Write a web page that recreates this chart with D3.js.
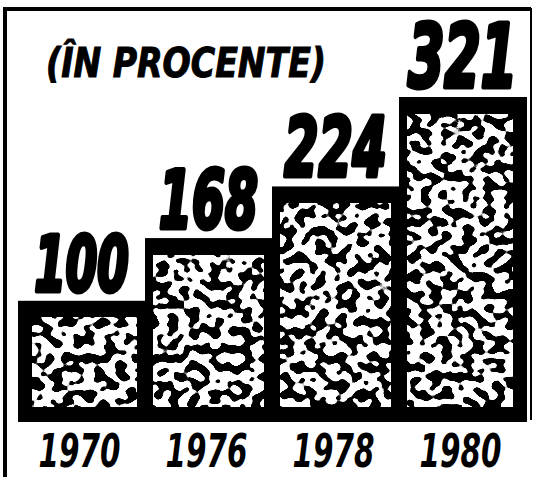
<!DOCTYPE html>
<html>
<head>
<meta charset="utf-8">
<script src="https://cdn.jsdelivr.net/npm/d3@7"></script>
<style>
  body { margin: 0; background: #fff; }
  svg { display: block; }
</style>
</head>
<body>
<div id="chart"></div>
<script>
// date: indici in procente (1970 = 100)
var years = ["1970", "1976", "1978", "1980"];
var values = [100, 168, 224, 321];
var unitLabel = "(ÎN PROCENTE)";

var w = 535, h = 477;
var baseY = 422;      // marginea de jos a coloanelor
var border = 15;      // grosimea chenarului negru

var svg = d3.select("#chart")
  .append("svg")
  .attr("width", w)
  .attr("height", h);

// textura "pietris" : zgomot trecut prin prag
var defs = svg.append("defs");
var f = defs.append("filter")
  .attr("id", "grain")
  .attr("filterUnits", "objectBoundingBox")
  .attr("x", 0).attr("y", 0).attr("width", 1).attr("height", 1)
  .attr("color-interpolation-filters", "sRGB");
f.append("feTurbulence")
  .attr("type", "fractalNoise")
  .attr("baseFrequency", "0.095 0.11")
  .attr("numOctaves", 1)
  .attr("seed", 7)
  .attr("result", "noise");
f.append("feColorMatrix")
  .attr("in", "noise")
  .attr("type", "matrix")
  .attr("values", "1 0 0 0 0  1 0 0 0 0  1 0 0 0 0  0 0 0 0 1")
  .attr("result", "grey");
var ct = f.append("feComponentTransfer").attr("in", "grey");
["feFuncR", "feFuncG", "feFuncB"].forEach(function(n) {
  ct.append(n).attr("type", "linear").attr("slope", 40).attr("intercept", -19.2);
});

var x = d3.scaleBand()
  .domain(years)
  .range([18, 526])
  .padding(0);

var y = d3.scaleLinear()
  .domain([0, 321])
  .range([393, 97]);

var labelSize = d3.scaleLinear()
  .domain([100, 321])
  .range([76, 88]);

var font = "'Liberation Sans Narrow', 'DejaVu Sans Condensed', sans-serif";

// chenarul exterior
svg.append("path")
  .attr("d", "M5,480 V9 H531")
  .attr("fill", "none")
  .attr("stroke", "#000")
  .attr("stroke-width", 4);
svg.append("line")
  .attr("x1", 531).attr("x2", 531).attr("y1", 8).attr("y2", 420)
  .attr("stroke", "#000").attr("stroke-width", 2);

var n = years.length;

// coloanele negre
svg.selectAll("rect.bar")
  .data(values)
  .enter()
  .append("rect")
  .attr("class", "bar")
  .attr("x", function(d, i) { return x(years[i]); })
  .attr("y", function(d) { return y(d); })
  .attr("width", x.bandwidth() + 1)
  .attr("height", function(d) { return baseY - y(d); })
  .attr("fill", "#000");

// interiorul texturat
svg.selectAll("rect.fill")
  .data(values)
  .enter()
  .append("rect")
  .attr("class", "fill")
  .attr("x", function(d, i) { return x(years[i]) + (i == 0 ? 14 : 8); })
  .attr("y", function(d) { return y(d) + border + 2; })
  .attr("width", function(d, i) {
    return x.bandwidth() - (i == 0 ? 14 : 8) - (i == n - 1 ? 13 : 8);
  })
  .attr("height", function(d) { return baseY - border - y(d) - border - 2; })
  .attr("fill", "#fff")
  .attr("filter", "url(#grain)");

// valorile deasupra coloanelor
svg.selectAll("text.val")
  .data(values)
  .enter()
  .append("text")
  .attr("class", "val")
  .text(function(d) { return d; })
  .attr("x", function(d, i) { return x(years[i]) + x.bandwidth() / 2; })
  .attr("y", function(d) { return y(d) - 10; })
  .attr("text-anchor", "middle")
  .attr("textLength", function(d) { return labelSize(d) * 1.24; })
  .attr("lengthAdjust", "spacingAndGlyphs")
  .attr("font-family", font)
  .attr("font-weight", "bold")
  .attr("font-style", "italic")
  .attr("font-size", function(d) { return labelSize(d) + "px"; })
  .attr("fill", "#000")
  .attr("stroke", "#000")
  .attr("stroke-width", 5)
  .attr("stroke-linejoin", "round");

// anii
svg.selectAll("text.year")
  .data(years)
  .enter()
  .append("text")
  .attr("class", "year")
  .text(function(d) { return d; })
  .attr("x", function(d) { return x(d) + x.bandwidth() / 2 - 2; })
  .attr("y", 467)
  .attr("text-anchor", "middle")
  .attr("textLength", 82)
  .attr("lengthAdjust", "spacingAndGlyphs")
  .attr("font-family", font)
  .attr("font-weight", "bold")
  .attr("font-style", "italic")
  .attr("font-size", "46px")
  .attr("fill", "#000");

// titlul
svg.append("text")
  .text(unitLabel)
  .attr("x", 46)
  .attr("y", 77)
  .attr("textLength", 280)
  .attr("lengthAdjust", "spacingAndGlyphs")
  .attr("font-family", font)
  .attr("font-weight", "bold")
  .attr("font-style", "italic")
  .attr("font-size", "40px")
  .attr("fill", "#000")
  .attr("stroke", "#000")
  .attr("stroke-width", 1);
</script>
</body>
</html>
